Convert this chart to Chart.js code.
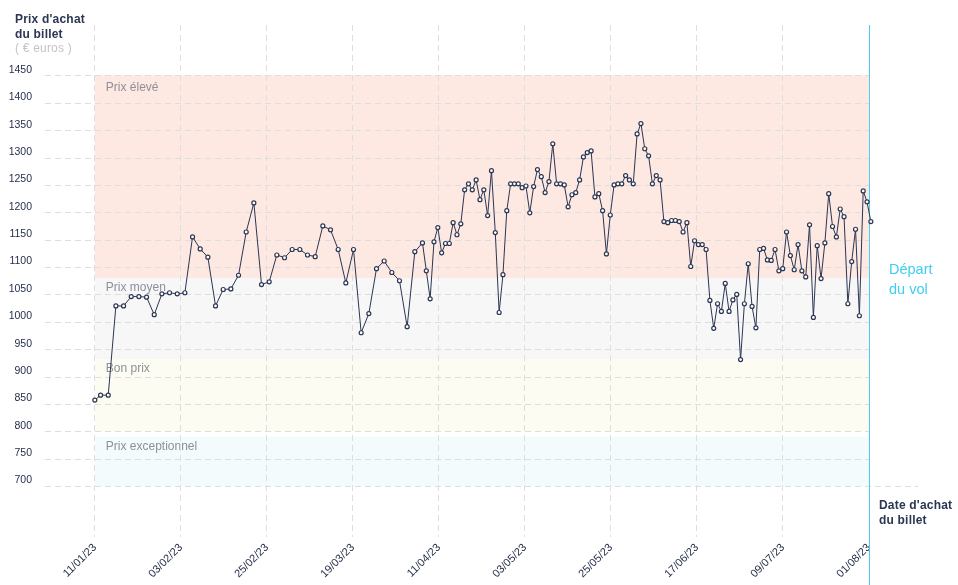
<!DOCTYPE html>
<html lang="fr">
<head>
<meta charset="utf-8">
<script src="https://cdn.jsdelivr.net/npm/chart.js@4.4.1/dist/chart.umd.min.js"></script>
<style>
  html, body { margin: 0; padding: 0; background: #fff; }
  #wrap { position: relative; width: 958px; height: 585px; font-family: "Liberation Sans", Arial, sans-serif; }
  #wrap canvas { position: absolute; left: 0; top: 0; }
  .titre { position: absolute; left: 15px; top: 12px; font-size: 12px; font-weight: bold; color: #2b3652; line-height: 14.5px; letter-spacing: 0.2px; }
  .titre .unite { color: #c4c4c4; font-weight: normal; }
  .depart { position: absolute; left: 889px; top: 260px; font-size: 14.5px; color: #3fcdf2; line-height: 19.5px; }
  .xtitre { position: absolute; left: 879px; top: 498px; font-size: 12px; font-weight: bold; color: #2b3652; line-height: 15px; letter-spacing: 0.2px; }
</style>
</head>
<body>
<div id="wrap">
  <canvas id="graph" width="958" height="585"></canvas>
  <div class="titre">Prix d'achat<br>du billet<br><span class="unite">( € euros )</span></div>
  <div class="depart">Départ<br>du vol</div>
  <div class="xtitre">Date d'achat<br>du billet</div>
</div>
<script>
// jours depuis le 11/01/23 (date d'achat)
const jours = [0,
  1.5, 3.5, 5.5, 7.5, 9.5, 11.5, 13.5, 15.5, 17.5, 19.5, 21.5, 23.5, 25.5, 27.5, 29.5,
  31.5, 33.5, 35.5, 37.5, 39.5, 41.5, 43.5, 45.5, 47.5, 49.5, 51.5, 53.5, 55.5, 57.5, 59.5,
  61.5, 63.5, 65.5, 67.5, 69.5, 71.5, 73.5, 75.5, 77.5, 79.5, 81.5, 83.5, 85.5,
  86.5, 87.5, 88.5, 89.5, 90.5, 91.5, 92.5, 93.5, 94.5, 95.5, 96.5, 97.5, 98.5, 99.5,
  100.5, 101.5, 102.5, 103.5, 104.5, 105.5, 106.5, 107.5, 108.5, 109.5, 110.5, 111.5,
  112.5, 113.5, 114.5, 115.5, 116.5, 117.5, 118.5, 119.5, 120.5, 121.5, 122.5, 123.5,
  124.5, 125.5, 126.5, 127.5, 128.5, 129.5, 130.5, 131.5, 132.5, 133.5, 134.5, 135.5,
  136.5, 137.5, 138.5, 139.5, 140.5, 141.5, 142.5, 143.5, 144.5, 145.5, 146.5, 147.5,
  148.5, 149.5, 150.5, 151.5, 152.5, 153.5, 154.5, 155.5, 156.5, 157.5, 158.5, 159.5,
  160.5, 161.5, 162.5, 163.5, 164.5, 165.5, 166.5, 167.5, 168.5, 169.5, 170.5, 171.5,
  172.5, 173.5, 174.5, 175.5, 176.5, 177.5, 178.5, 179.5, 180.5, 181.5, 182.5, 183.5,
  184.5, 185.5, 186.5, 187.5, 188.5, 189.5, 190.5, 191.5, 192.5, 193.5, 194.5, 195.5,
  196.5, 197.5, 198.5, 199.5, 200.5, 201.5, 202.5];

// prix du billet (euros)
const prix = [857,
  866, 866, 1029, 1029, 1046, 1046, 1045, 1013, 1051, 1053, 1051, 1053, 1155, 1133, 1118,
  1029, 1059, 1060, 1085, 1164, 1217, 1068, 1073, 1122, 1117, 1132, 1132, 1122, 1119, 1175,
  1168, 1132, 1071, 1132, 980, 1015, 1097, 1111, 1090, 1075, 991, 1128, 1144,
  1093, 1042, 1146, 1172, 1126, 1143, 1143, 1181, 1159, 1179, 1241, 1252, 1241, 1259,
  1223, 1241, 1194, 1276, 1163, 1017, 1086, 1203, 1252, 1252, 1252, 1245,
  1248, 1199, 1247, 1278, 1265, 1236, 1256, 1325, 1252, 1252, 1250, 1210,
  1232, 1236, 1259, 1301, 1309, 1312, 1228, 1234, 1203, 1124, 1195, 1250,
  1252, 1252, 1267, 1259, 1252, 1343, 1362, 1316, 1303, 1252, 1267, 1259,
  1183, 1181, 1185, 1185, 1183, 1164, 1181, 1101, 1148, 1141, 1141, 1132,
  1039, 988, 1033, 1019, 1070, 1019, 1040, 1050, 931, 1033, 1106, 1028,
  989, 1132, 1134, 1113, 1112, 1132, 1093, 1097, 1164, 1121, 1095, 1141,
  1093, 1082, 1177, 1008, 1139, 1079, 1144, 1234, 1174, 1155, 1206, 1192,
  1033, 1110, 1169, 1011, 1239, 1219, 1183];

const xLabels = ['11/01/23', '03/02/23', '25/02/23', '19/03/23', '11/04/23',
  '03/05/23', '25/05/23', '17/06/23', '09/07/23', '01/08/23'];
const yTicks = [700, 750, 800, 850, 900, 950, 1000, 1050, 1100, 1150, 1200, 1250, 1300, 1350, 1400, 1450];

// zones de prix
const zonesNoms = ['Prix élevé', 'Prix moyen', 'Bon prix', 'Prix exceptionnel'];
const zonesHaut = [1450, 1080, 932, 790];
const zonesBas = [1080, 932, 800, 700];

const jourDepart = 202;

const zonesCouleurs = ['#fde8e2', '#f7f7f8', '#fcfcf2', '#f3fbfd'];

const fondPlugin = {
  id: 'fond',
  beforeDraw(chart) {
    const { ctx, chartArea, scales: { x, y } } = chart;
    const x0 = x.getPixelForValue(0);
    const x1 = x.getPixelForValue(jourDepart);
    ctx.save();
    // bandes
    zonesNoms.forEach((nom, i) => {
      const yh = y.getPixelForValue(zonesHaut[i]);
      const yb = y.getPixelForValue(zonesBas[i]);
      ctx.fillStyle = zonesCouleurs[i];
      ctx.fillRect(x0, yh, x1 - x0, yb - yh);
    });
    // lignes horizontales
    ctx.strokeStyle = '#dedede';
    ctx.lineWidth = 1;
    ctx.setLineDash([6, 4]);
    yTicks.forEach(v => {
      const py = Math.round(y.getPixelForValue(v)) + 0.5;
      const fin = v === yTicks[0] ? chartArea.right : x1;
      ctx.beginPath();
      ctx.moveTo(chartArea.left, py);
      ctx.lineTo(fin, py);
      ctx.stroke();
    });
    ctx.setLineDash([]);
    // noms des zones
    ctx.font = '12px "Liberation Sans", Arial, sans-serif';
    ctx.fillStyle = '#8c909b';
    ctx.textBaseline = 'middle';
    zonesNoms.forEach((nom, i) => {
      const yh = y.getPixelForValue(zonesHaut[i]);
      ctx.fillText(nom, x0 + 11, yh + (i === 0 ? 12 : 10));
    });
    ctx.restore();
  },
  beforeDatasetsDraw(chart) {
    const { ctx, chartArea, scales: { x } } = chart;
    const px = Math.round(x.getPixelForValue(jourDepart)) + 0.5;
    ctx.save();
    ctx.strokeStyle = '#4ccbf0';
    ctx.lineWidth = 1;
    ctx.beginPath();
    ctx.moveTo(px, chartArea.top);
    ctx.lineTo(px, chart.height);
    ctx.stroke();
    ctx.restore();
  }
};

new Chart(document.getElementById('graph'), {
  type: 'line',
  data: {
    datasets: [{
      data: jours.map((j, i) => ({ x: j, y: prix[i] })),
      borderColor: '#2b3652',
      borderWidth: 1,
      pointRadius: 2,
      pointBorderWidth: 1.2,
      pointBackgroundColor: '#ffffff',
      pointBorderColor: '#2b3652',
      tension: 0
    }]
  },
  options: {
    responsive: false,
    animation: false,
    devicePixelRatio: 1,
    layout: { padding: { top: 25, right: 40, left: 0, bottom: 0 } },
    plugins: { legend: { display: false }, tooltip: { enabled: false } },
    scales: {
      x: {
        type: 'linear',
        min: -13,
        max: 214.8,
        border: { display: false, dash: [6, 4] },
        grid: {
          drawTicks: false,
          color: ctx => ctx.index === xLabels.length - 1 ? 'rgba(0,0,0,0)' : '#dedede'
        },
        afterBuildTicks: scale => {
          scale.ticks = xLabels.map((l, i) => ({ value: i * jourDepart / (xLabels.length - 1) }));
        },
        afterFit: scale => { scale.height = 48; },
        ticks: {
          autoSkip: false,
          maxRotation: 45,
          minRotation: 45,
          padding: 4,
          color: '#1f2a44',
          font: { family: '"Liberation Sans", Arial, sans-serif', size: 11 },
          callback: (v, i) => xLabels[i]
        }
      },
      y: {
        min: 607,
        max: 1542,
        border: { display: false },
        grid: { display: false, drawTicks: false },
        afterBuildTicks: scale => {
          scale.ticks = yTicks.map(v => ({ value: v }));
        },
        afterFit: scale => { scale.width = 45; },
        ticks: {
          padding: 13,
          labelOffset: -5.5,
          color: '#1f2a44',
          font: { family: '"Liberation Sans", Arial, sans-serif', size: 10.5 },
          callback: v => String(v)
        }
      }
    }
  },
  plugins: [fondPlugin]
});
</script>
</body>
</html>
